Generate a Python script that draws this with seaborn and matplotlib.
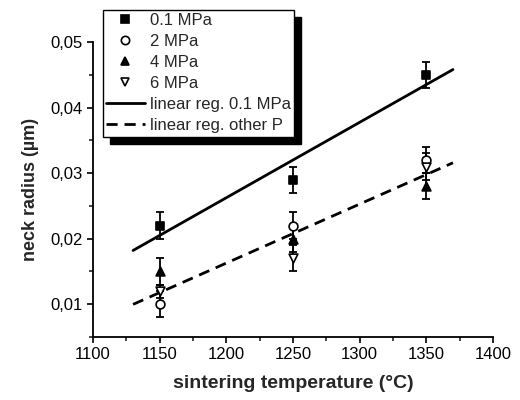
import numpy as np
import pandas as pd
import matplotlib
matplotlib.use("Agg")
import matplotlib.pyplot as plt
from matplotlib.lines import Line2D
from matplotlib.ticker import FuncFormatter, MultipleLocator
import seaborn as sns

temps = [1150, 1250, 1350]
p01 = [0.022, 0.029, 0.045]
p01_err = [0.002, 0.002, 0.002]
p2 = [0.010, 0.022, 0.032]
p2_err = [0.002, 0.002, 0.002]
p4 = [0.015, 0.020, 0.028]
p4_err = [0.002, 0.002, 0.002]
p6 = [0.012, 0.017, 0.031]
p6_err = [0.001, 0.002, 0.002]
labels = ["0.1 MPa", "2 MPa", "4 MPa", "6 MPa"]
reg_range = [1130, 1370]

sns.set_theme(style="ticks")
plt.rcParams['font.family'] = ['Liberation Sans', 'DejaVu Sans']

fig = plt.figure(figsize=(5.2, 4.0), dpi=100)
ax = fig.add_axes([0.179, 0.1575, 0.769, 0.7375])

series = [(p01, p01_err, 's', 'black'), (p2, p2_err, 'o', 'white'),
          (p4, p4_err, '^', 'black'), (p6, p6_err, 'v', 'white')]
handles = []
for (vals, errs, mk, fc), lab in zip(series, labels):
    ax.errorbar(temps, vals, yerr=errs, fmt='none', ecolor='black',
                elinewidth=1.3, capsize=3, capthick=1.3, zorder=2)
    df = pd.DataFrame({"T": temps, "r": vals})
    sns.scatterplot(data=df, x="T", y="r", marker=mk, s=40, color=fc,
                    edgecolor='black', linewidth=1.2, ax=ax, zorder=3, legend=False)
    handles.append(Line2D([], [], ls='none', marker=mk, markersize=6,
                          markerfacecolor=fc, markeredgecolor='black',
                          markeredgewidth=1.2, label=lab))

# regressions
xr = np.array(reg_range, dtype=float)
c1 = np.polyfit(temps, p01, 1)
others_x = temps * 3
others_y = p2 + p4 + p6
c2 = np.polyfit(others_x, others_y, 1)
sns.lineplot(x=xr, y=np.polyval(c1, xr), color='black', lw=2, ax=ax)
sns.lineplot(x=xr, y=np.polyval(c2, xr), color='black', lw=2, ls=(0, (4, 2.5)), ax=ax)
handles.append(Line2D([], [], color='black', lw=2, label='linear reg. 0.1 MPa'))
handles.append(Line2D([], [], color='black', lw=2, ls=(0, (4, 2.5)), label='linear reg. other P'))

ax.set_xlim(1100, 1400)
ax.set_ylim(0.005, 0.05)
ax.xaxis.set_major_locator(MultipleLocator(50))
ax.xaxis.set_minor_locator(MultipleLocator(25))
ax.yaxis.set_major_locator(MultipleLocator(0.01))
ax.yaxis.set_minor_locator(MultipleLocator(0.005))
ax.yaxis.set_major_formatter(FuncFormatter(lambda v, p: f"{v:.2f}".replace('.', ',')))
ax.tick_params(which='major', direction='out', length=4, width=1.2, labelsize=12, colors='black')
ax.tick_params(which='minor', direction='out', length=3, width=1.2)
for s in ['top', 'right']:
    ax.spines[s].set_visible(False)
for s in ['left', 'bottom']:
    ax.spines[s].set_linewidth(1.3)
    ax.spines[s].set_color('black')

ax.set_xlabel("sintering temperature (°C)", fontsize=14, fontweight='bold', labelpad=9)
ax.set_ylabel("neck radius (µm)", fontsize=13, fontweight='bold', labelpad=8)

leg = fig.legend(handles=handles, loc='upper left', bbox_to_anchor=(0.198, 0.975),
                 frameon=True, fancybox=False, fontsize=12, handlelength=2.3,
                 labelspacing=0.36, borderpad=0.2, handletextpad=0.3, borderaxespad=0,
                 shadow={'ox': 5, 'oy': -5, 'facecolor': 'black', 'edgecolor': 'black', 'alpha': 1})
leg.get_frame().set_edgecolor('black')
leg.get_frame().set_linewidth(1.0)
leg.get_frame().set_alpha(1)

fig.savefig("out.png", dpi=100)
